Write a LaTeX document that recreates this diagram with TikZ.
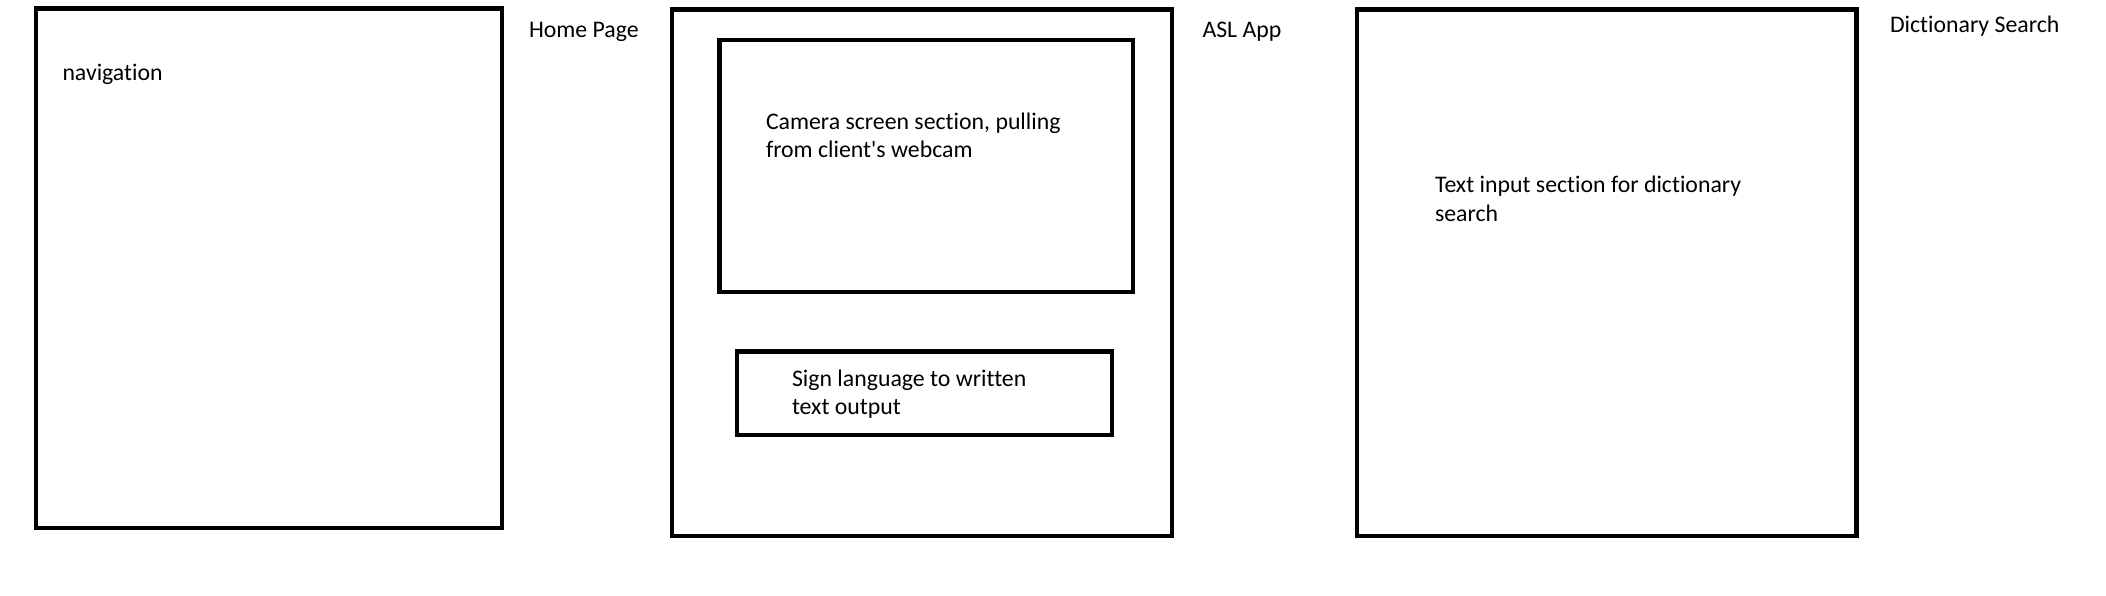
\documentclass[tikz,border=0pt]{standalone}
\usepackage{fontspec}
\setmainfont{Carlito}[Ligatures={NoCommon,TeXOff}]
\begin{document}
\begin{tikzpicture}[x=0.5pt,y=-0.5pt,
  frame/.style={draw=black,line width=2.4pt,rectangle,inner sep=0pt,outer sep=0pt},
  lbl/.style={anchor=base west,inner sep=0pt,outer sep=0pt,font=\fontsize{11.9}{14.3}\selectfont}]
\useasboundingbox[fill=white] (0,0) rectangle (2106,595);
% page frames
\node[frame,minimum width=233pt,minimum height=259.75pt] (home) at (269,268.25) {};
\node[frame,minimum width=250pt,minimum height=263.35pt] (asl) at (922,272.65) {};
\node[frame,minimum width=206.75pt,minimum height=126pt] (cam) at (926.25,166) {};
\node[frame,minimum width=187.5pt,minimum height=41.75pt] (sign) at (924.5,393.25) {};
\node[frame,minimum width=249.75pt,minimum height=263.25pt] (dict) at (1606.75,272.75) {};
% labels
\node[lbl] (nav) at (62.5,80.5) {navigation};
\node[lbl] (homet) at (529,37) {Home Page};
\node[lbl] (aslt) at (1202.5,37) {ASL App};
\node[lbl] (dictt) at (1890,32) {Dictionary Search};
\node[lbl] (camt) at (766,129) {\begin{tabular}[t]{@{}l@{}}Camera screen section, pulling\\from client's webcam\end{tabular}};
\node[lbl] (signt) at (792,386) {\begin{tabular}[t]{@{}l@{}}Sign language to written\\text output\end{tabular}};
\node[lbl] (dictin) at (1435,192.4) {\begin{tabular}[t]{@{}l@{}}Text input section for dictionary\\search\end{tabular}};
\end{tikzpicture}
\end{document}
